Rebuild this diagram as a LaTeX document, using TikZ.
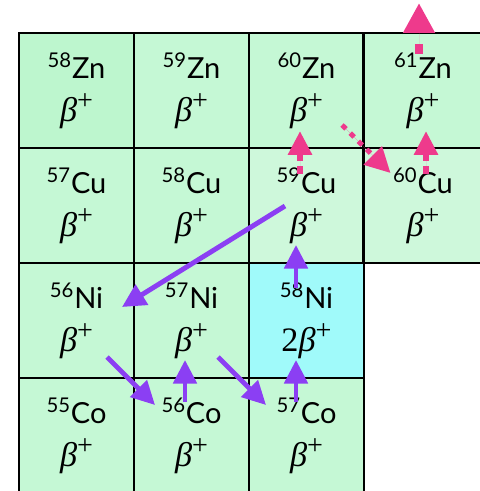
\documentclass[tikz,border=0pt]{standalone}
\usepackage{fontspec}
\usetikzlibrary{arrows.meta,calc}
\newfontfamily\elfont{Lato}
\newfontfamily\modefont{Liberation Serif}
\definecolor{Mint}{HTML}{C5F8D5}
\definecolor{DeepMint}{HTML}{BDF6CE}
\definecolor{PaleMint}{HTML}{CEF8DB}
\definecolor{Aqua}{HTML}{A0FAFA}
\definecolor{Violet}{HTML}{8B3FF3}
\definecolor{Rose}{HTML}{EE3A8C}
\newcommand{\nuc}[3]{{\elfont\textsuperscript{#1}#2}\\[4pt]{\modefont\fontsize{19.5}{20.5}\selectfont #3{\itshape β}\raisebox{.75ex}{\fontsize{16}{16}\selectfont +}}}
\tikzset{
  cell/.style={draw=black,line width=.8pt,fill=Mint,minimum width=2.3cm,minimum height=2.3cm,inner sep=0pt,align=center,font=\fontsize{16.5}{20.5}\selectfont},
  edge/.style={cell,minimum width=2.36cm},
  decay/.style={-{Triangle[length=4.7mm,width=4.6mm]},draw=Violet,fill=Violet,line width=2.8pt},
  capt/.style={-{Triangle[length=4.8mm,width=4.6mm]},draw=Rose,fill=Rose,line width=3.6pt,dash pattern=on 1.6mm off 1mm},
  bigcapt/.style={capt,-{Triangle[length=6mm,width=6mm]},line width=5pt,dash pattern=on 2mm off 2.6mm},
  hop/.style={-{Triangle[length=5mm,width=5mm]},draw=Rose,fill=Rose,line width=2.8pt,dash pattern=on 1.1mm off 1.2mm},
}
\begin{document}
\begin{tikzpicture}
\useasboundingbox (0,0) rectangle (9.58,-9.82);
% top row: zinc
\node[cell,fill=DeepMint] (zn58) at (1.53,-1.81) {\nuc{58}{Zn}{}};
\node[cell] (zn59) at (3.83,-1.81) {\nuc{59}{Zn}{}};
\node[cell] (zn60) at (6.13,-1.81) {\nuc{60}{Zn}{}};
\node[edge] (zn61) at (8.46,-1.81) {\nuc{61}{Zn}{}};
% copper
\node[cell] (cu57) at (1.53,-4.11) {\nuc{57}{Cu}{}};
\node[cell] (cu58) at (3.83,-4.11) {\nuc{58}{Cu}{}};
\node[cell,fill=PaleMint] (cu59) at (6.13,-4.11) {\nuc{59}{Cu}{}};
\node[edge,fill=PaleMint] (cu60) at (8.46,-4.11) {\nuc{60}{Cu}{}};
% nickel
\node[cell] (ni56) at (1.53,-6.41) {\nuc{56}{Ni}{}};
\node[cell] (ni57) at (3.83,-6.41) {\nuc{57}{Ni}{}};
\node[cell,fill=Aqua] (ni58) at (6.13,-6.41) {\nuc{58}{Ni}{2}};
% cobalt
\node[cell] (co55) at (1.53,-8.71) {\nuc{55}{Co}{}};
\node[cell] (co56) at (3.83,-8.71) {\nuc{56}{Co}{}};
\node[cell] (co57) at (6.13,-8.71) {\nuc{57}{Co}{}};
\draw[line width=1.8pt] (zn61.north west) -- (cu60.south west);
% beta+ chain
\draw[decay] ([shift={(-.43,-.01)}]cu59.center) -- ([shift={(.91,.27)}]ni56.center);
\draw[decay] ([shift={(.61,-.73)}]ni56.center) -- ([shift={(-.73,.61)}]co56.center);
\draw[decay] ([shift={(-.13,.67)}]co56.center) -- ([shift={(-.13,-.79)}]ni57.center);
\draw[decay] ([shift={(.53,-.73)}]ni57.center) -- ([shift={(-.81,.61)}]co57.center);
\draw[decay] ([shift={(-.21,.67)}]co57.center) -- ([shift={(-.21,-.79)}]ni58.center);
\draw[decay] ([shift={(-.21,.65)}]ni58.center) -- ([shift={(-.21,-.79)}]cu59.center);
% pink branch
\draw[capt] ([shift={(-.13,.63)}]cu59.center) -- ([shift={(-.13,-.81)}]zn60.center);
\draw[capt] ([shift={(.06,.63)}]cu60.center) -- ([shift={(.06,-.81)}]zn61.center);
\draw[hop] ([shift={(.71,-.69)}]zn60.center) -- ([shift={(-.65,.65)}]cu60.center);
\draw[bigcapt] ([shift={(-.08,.73)}]zn61.center) -- ([shift={(-.08,1.75)}]zn61.center);
\end{tikzpicture}
\end{document}
